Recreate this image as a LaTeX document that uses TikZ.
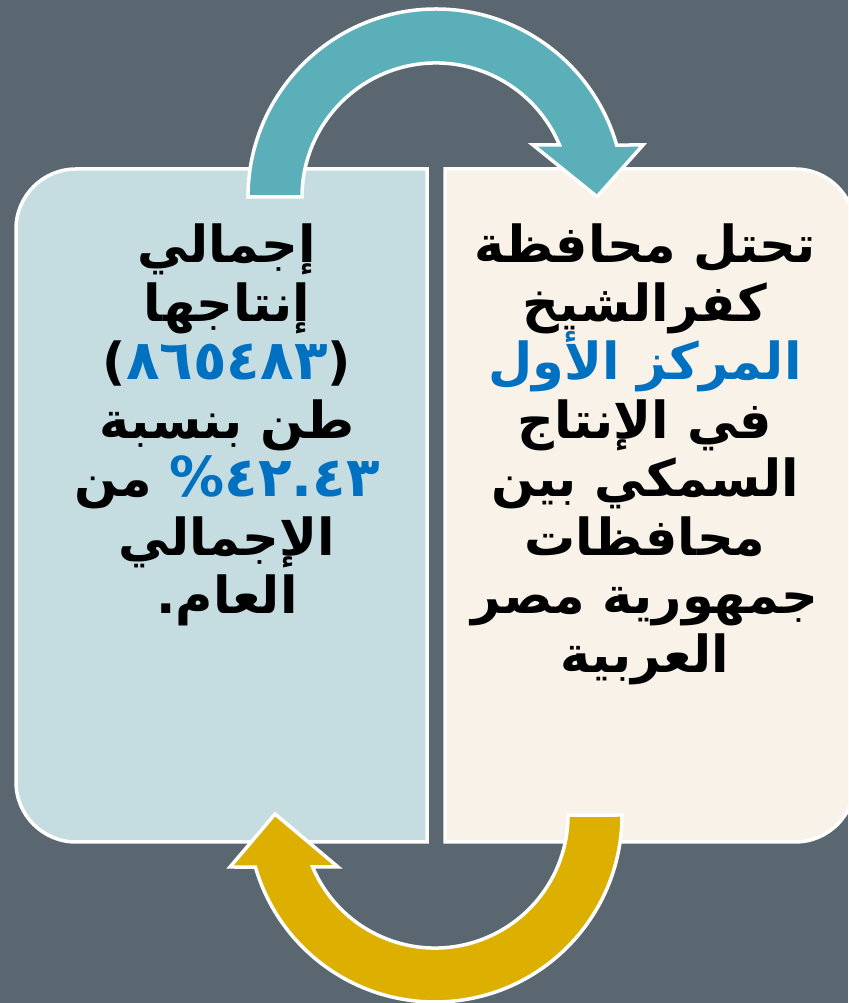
\documentclass[tikz,border=0pt]{standalone}
\usepackage{fontspec}
\newfontfamily\arabicfont[Script=Arabic]{DejaVu Sans}
\TeXXeTstate=1
\definecolor{bgcol}{HTML}{5B6770}
\definecolor{leftcol}{HTML}{C5DDE1}
\definecolor{rightcol}{HTML}{F8F2E8}
\definecolor{tealcol}{HTML}{5AAFB8}
\definecolor{goldcol}{HTML}{DDAF00}
\definecolor{bluetxt}{HTML}{0070C0}
\newcommand{\bignum}[1]{\hbox{\fontsize{55}{58}\selectfont\textcolor{bluetxt}{#1}}}
\tikzset{
  outline/.style={draw=white, line width=3.5pt},
  txt/.style={anchor=base, inner sep=0pt, text=black,
    font=\arabicfont\bfseries\fontsize{51}{58}\selectfont},
}
\begin{document}
\begin{tikzpicture}[x=1pt,y=1pt]
\useasboundingbox (0,0) rectangle (848,1003);
\begin{scope}
\clip (0,0) rectangle (848,1003);
\fill[bgcol] (0,0) rectangle (848,1003);
% left box
\draw[outline, fill=leftcol] (427,834) -- (76,834)
  arc[start angle=90, end angle=180, radius=60pt] -- (16,221)
  arc[start angle=180, end angle=270, radius=60pt] -- (427,161) -- cycle;
% right box
\draw[outline, fill=rightcol] (445,834) -- (795,834)
  arc[start angle=90, end angle=0, radius=60pt] -- (855,221)
  arc[start angle=0, end angle=-90, radius=60pt] -- (445,161) -- cycle;
% top teal arrow
\draw[outline, fill=tealcol] (248,806)
  arc[start angle=180, end angle=16.05, radius=188pt]
  -- (643,858) -- (597,806.3) -- (533,858) -- (559.5,858)
  arc[start angle=22.83, end angle=180, radius=134pt] -- cycle;
% bottom gold arrow
\draw[outline, fill=goldcol] (622,188)
  arc[start angle=0, end angle=-163.85, radius=187pt]
  -- (230,136) -- (275,189) -- (338,136) -- (312.6,136)
  arc[start angle=-157.0, end angle=0, radius=133pt] -- cycle;
\end{scope}
% left text
\node[txt] (l1) at (227,740) {\beginR إجمالي\endR};
\node[txt] (l2) at (227,681.5) {\beginR إنتاجها\endR};
\node[txt] (l3) at (227,623) {\hbox{)}\bignum{٨٦٥٤٨٣}\hbox{(}};
\node[txt] (l4) at (227,564.5) {\beginR طن بنسبة\endR};
\node[txt] (l5) at (227,506) {\hbox{من}\ \bignum{\%}\bignum{٤٢.٤٣}};
\node[txt] (l6) at (227,447.5) {\beginR الإجمالي\endR};
\node[txt] (l7) at (227,389) {\beginR العام\kern0pt.\endR};
% right text
\node[txt] (r1) at (645,740) {\beginR تحتل محافظة\endR};
\node[txt] (r2) at (645,681.5) {\beginR كفرالشيخ\endR};
\node[txt, text=bluetxt] (r3) at (645,623) {\beginR المركز الأول\endR};
\node[txt] (r4) at (645,564.5) {\beginR في الإنتاج\endR};
\node[txt] (r5) at (645,506) {\beginR السمكي بين\endR};
\node[txt] (r6) at (645,447.5) {\beginR محافظات\endR};
\node[txt] (r7) at (645,389) {\beginR جمهورية مصر\endR};
\node[txt] (r8) at (645,330.5) {\beginR العربية\endR};
\end{tikzpicture}
\end{document}
